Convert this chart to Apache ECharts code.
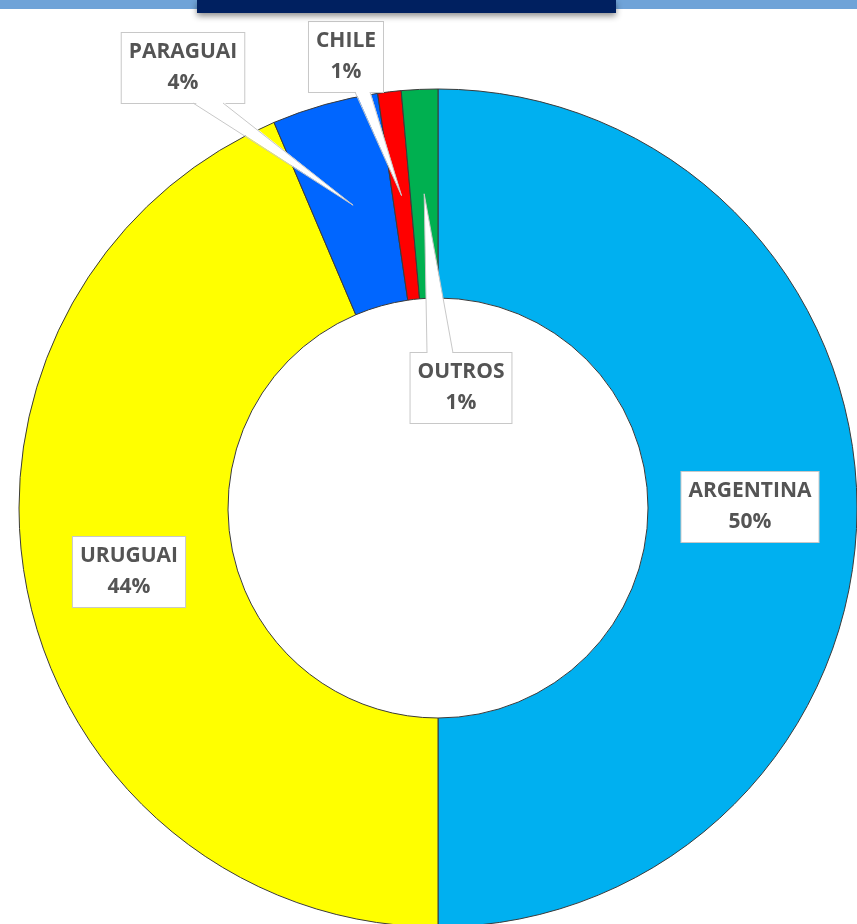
<!DOCTYPE html>
<html>
<head>
<meta charset="utf-8">
<script src="https://cdn.jsdelivr.net/npm/echarts@6/dist/echarts.min.js"></script>
<style>
  html, body { margin: 0; padding: 0; background: #fff; }
  #chart { width: 857px; height: 924px; }
</style>
</head>
<body>
<div id="chart"></div>
<script>
// dados (participação %)
const countries = ['ARGENTINA', 'URUGUAI', 'PARAGUAI', 'CHILE', 'OUTROS']
const shares = [50.0, 43.6, 4.1, 0.9, 1.4]
const sliceColors = ['#00B0F0', '#FFFF00', '#0066FF', '#FF0000', '#00B050']

// caixas dos rótulos (centro), lado do ponteiro e largura da base do ponteiro
const labelPos = [[750, 507], [129, 572], [183, 68], [346, 57], [461, 388]]
const pointerEdge = [null, null, 'bottom', 'bottom', 'top']
const pointerBase = [null, null, [10, 40], [9, 24], [-34, -8]]

const CX = 438
const CY = 508
const R_IN = 210
const R_OUT = 419
const FONT = 21
const LINE_H = 31
const PAD = [4, 7]
const BOX_H = LINE_H * 2 + PAD[0] * 2

const total = shares.reduce((a, b) => a + b, 0)

// ponto central da fatia (meio do anel, meio do ângulo)
const sliceMid = (idx) => {
  let before = 0
  for (let i = 0; i < idx; i++) before += shares[i]
  const frac = (before + shares[idx] / 2) / total
  const ang = frac * Math.PI * 2
  const r = (R_IN + R_OUT) / 2
  return [CX + r * Math.sin(ang), CY - r * Math.cos(ang)]
}

// ponteiros brancos (cunhas) das caixas até as fatias pequenas
const pointers = []
countries.forEach((c, i) => {
  if (!pointerEdge[i]) return
  const [x, y] = labelPos[i]
  const ey = pointerEdge[i] === 'bottom' ? y + BOX_H / 2 : y - BOX_H / 2
  const inset = pointerEdge[i] === 'bottom' ? -1.5 : 1.5
  const a = [x + pointerBase[i][0], ey]
  const b = [x + pointerBase[i][1], ey]
  const tip = sliceMid(i)
  pointers.push({
    type: 'polygon',
    z: 100,
    shape: { points: [[a[0], a[1] + inset], tip, [b[0], b[1] + inset]] },
    style: { fill: '#fff' }
  })
  pointers.push({
    type: 'polyline',
    z: 101,
    shape: { points: [a, tip, b] },
    style: { stroke: '#c8c8c8', lineWidth: 1, fill: null }
  })
})

const chart = echarts.init(document.getElementById('chart'))

const option = {
  animation: false,
  graphic: [
    { type: 'rect', z: 100, shape: { x: 0, y: 0, width: 857, height: 9 }, style: { fill: '#6FA3D8' } },
    {
      type: 'rect',
      z: 101,
      shape: { x: 197, y: 0, width: 419, height: 13 },
      style: { fill: '#002060', shadowColor: 'rgba(0,0,0,0.45)', shadowBlur: 6, shadowOffsetY: 3 }
    }
  ].concat(pointers),
  series: [
    {
      type: 'pie',
      center: [CX, CY],
      radius: [R_IN, R_OUT],
      startAngle: 90,
      clockwise: true,
      avoidLabelOverlap: false,
      data: countries.map((name, i) => ({
        name: name,
        value: shares[i],
        itemStyle: { color: sliceColors[i] }
      })),
      itemStyle: { borderColor: '#3a3a3a', borderWidth: 1 },
      label: {
        show: true,
        formatter: (p) => p.name + '\n' + Math.round(p.percent) + '%',
        fontFamily: 'Open Sans',
        fontWeight: 'bold',
        fontSize: FONT,
        lineHeight: LINE_H,
        color: '#545454',
        backgroundColor: '#fff',
        borderColor: '#c8c8c8',
        borderWidth: 1,
        padding: PAD,
        align: 'center',
        verticalAlign: 'middle'
      },
      labelLine: { show: false },
      labelLayout: (params) => {
        const [x, y] = labelPos[params.dataIndex]
        return { x: x, y: y, align: 'center', verticalAlign: 'middle' }
      }
    }
  ]
}

chart.setOption(option)
</script>
</body>
</html>
